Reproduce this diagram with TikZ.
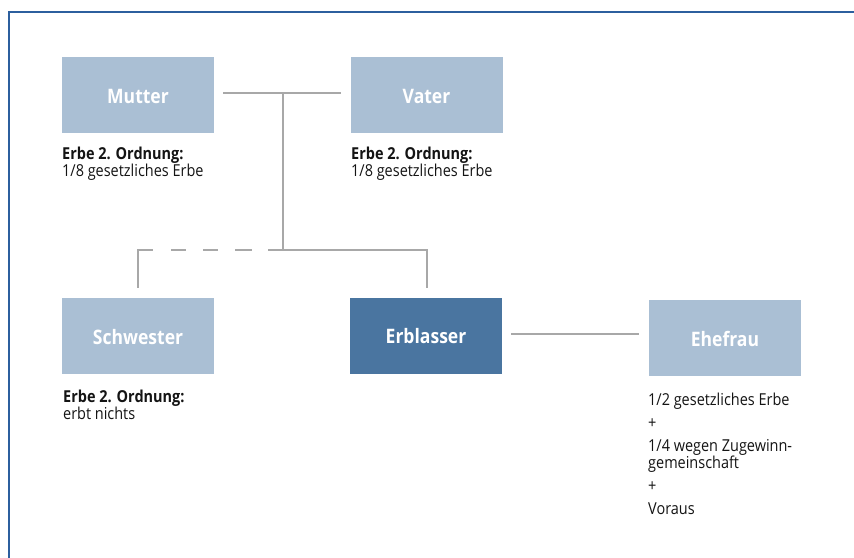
\documentclass[tikz,border=0pt]{standalone}
\usepackage{fontspec}
\setmainfont{Open Sans}[FakeStretch=0.88]
\usetikzlibrary{calc}
\definecolor{framecol}{HTML}{2C5F9E}
\definecolor{boxlight}{HTML}{AABFD4}
\definecolor{boxdark}{HTML}{4A75A0}
\definecolor{linkcol}{HTML}{A8A8A8}
\definecolor{textcol}{HTML}{141414}
\begin{document}
\begin{tikzpicture}[x=1bp,y=-1bp,
  person/.style={minimum width=152bp, minimum height=76bp, inner sep=0pt,
    text height=17.5bp, text depth=0pt,
    fill=boxlight, text=white, font=\fontsize{20}{22}\selectfont\bfseries},
  testator/.style={person, fill=boxdark, text height=15bp},
  link/.style={draw=linkcol, line width=1.4bp},
  note/.style={anchor=base west, inner sep=0pt, text=textcol,
    font=\fontsize{16.5}{18}\selectfont}]
\useasboundingbox (0,0) rectangle (854,558);
\fill[white] (0,0) rectangle (854,558);
% outer frame (top and left edges only)
\draw[framecol, line width=2bp] (854,12) -- (9,12) -- (9,558);

% family members
\node[person]   (mutter)    at (138,95)    {Mutter};
\node[person]   (vater)     at (426.5,95)  {Vater};
\node[person]   (schwester) at (138,336)   {Schwester};
\node[testator] (erblasser) at (426,336)   {Erblasser};
\node[person]   (ehefrau)   at (725,338)   {Ehefrau};

% junction points of the family tree
\coordinate (parents) at (283,93);
\coordinate (kids)    at (283,250);
\coordinate (sisterc) at (138,250);
\coordinate (dashend) at (268,250);
\coordinate (selfc)   at (427,250);
\coordinate (selfd)   at (427,288);

% parents
\draw[link] ($(mutter.east)+(9,-2)$) -- ($(vater.west)+(-9,-2)$);
\draw[link] (parents) -- (kids);
% sister branch: solid drop, dashed run
\draw[link, dash pattern=on 53bp off 18bp on 15bp off 17bp on 15bp off 17bp on 17bp off 20bp]
  ($(schwester.north)+(0,-10)$) -- (sisterc) -- (dashend);
% testator branch
\draw[link] (dashend) -- (kids) -- (selfc) -- (selfd);
% marriage
\draw[link] ($(erblasser.east)+(9,-2)$) -- ($(ehefrau.west)+(-10,-4)$);

% shares
\node[note] (mutterinfo) at (62,159.5)
  {\vtop{\baselineskip=17.5bp\hbox{\bfseries Erbe 2. Ordnung:}\hbox{1/8 gesetzliches Erbe}}};
\node[note] (vaterinfo) at (351,159.5)
  {\vtop{\baselineskip=17.5bp\hbox{\bfseries Erbe 2. Ordnung:}\hbox{1/8 gesetzliches Erbe}}};
\node[note] (schwesterinfo) at (63,402)
  {\vtop{\baselineskip=17.5bp\hbox{\bfseries Erbe 2. Ordnung:}\hbox{erbt nichts}}};
\node[note] (ehefrauinfo) at (648,405)
  {\vtop{\baselineskip=16.5bp
    \hbox{1/2 gesetzliches Erbe}\vskip6.5bp
    \hbox{+}\vskip6.5bp
    \hbox{1/4 wegen Zugewinn-}
    \hbox{gemeinschaft}\vskip6.5bp
    \hbox{+}\vskip6.5bp
    \hbox{Voraus}}};
\end{tikzpicture}
\end{document}
